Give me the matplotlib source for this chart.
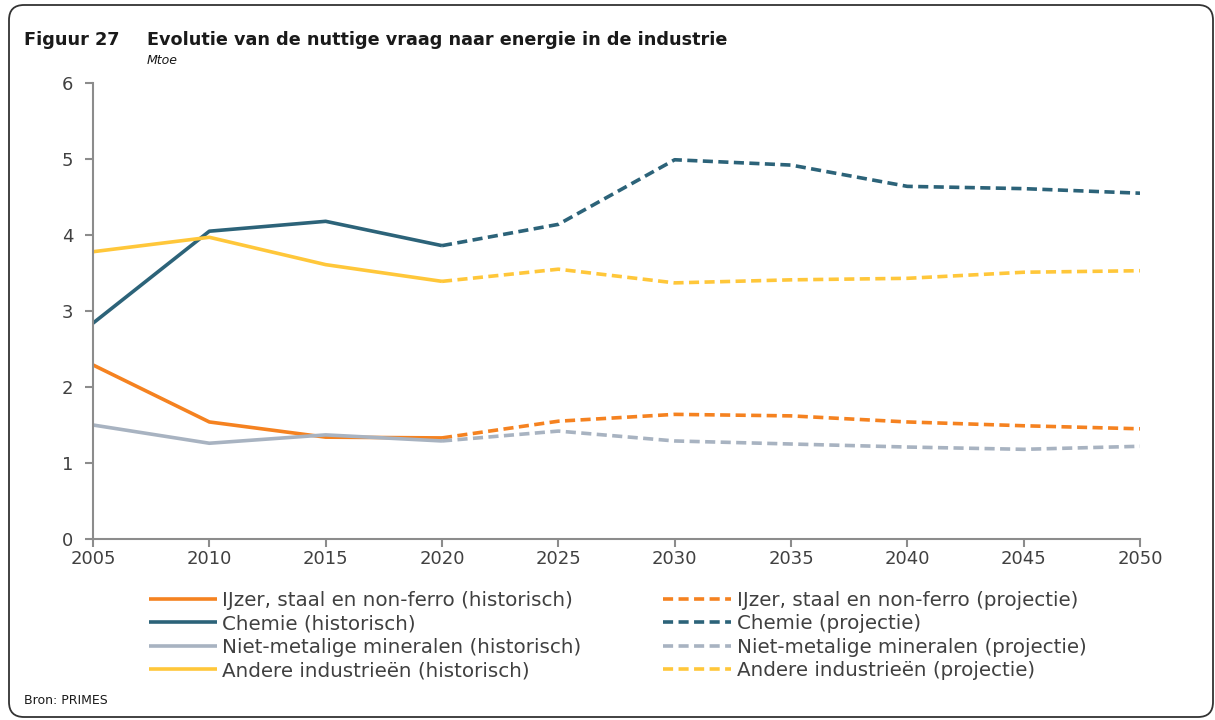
import matplotlib
matplotlib.use("Agg")
import matplotlib.pyplot as plt
from matplotlib.patches import FancyBboxPatch

years_hist = [2005, 2010, 2015, 2020]
years_proj = [2020, 2025, 2030, 2035, 2040, 2045, 2050]

ijzer_hist = [2.29, 1.54, 1.34, 1.33]
ijzer_proj = [1.33, 1.55, 1.64, 1.62, 1.54, 1.49, 1.45]
chemie_hist = [2.84, 4.05, 4.18, 3.86]
chemie_proj = [3.86, 4.14, 4.99, 4.92, 4.64, 4.61, 4.55]
mineralen_hist = [1.50, 1.26, 1.37, 1.29]
mineralen_proj = [1.29, 1.42, 1.29, 1.25, 1.21, 1.18, 1.22]
andere_hist = [3.78, 3.97, 3.61, 3.39]
andere_proj = [3.39, 3.55, 3.37, 3.41, 3.43, 3.51, 3.53]

series_names = ["IJzer, staal en non-ferro", "Chemie", "Niet-metalige mineralen", "Andere industrieën"]
colors = ["#F58220", "#2C6379", "#A8B3C1", "#FFC73A"]
hist_data = [ijzer_hist, chemie_hist, mineralen_hist, andere_hist]
proj_data = [ijzer_proj, chemie_proj, mineralen_proj, andere_proj]

x_ticks = [2005, 2010, 2015, 2020, 2025, 2030, 2035, 2040, 2045, 2050]
y_ticks = [0, 1, 2, 3, 4, 5, 6]

plt.rcParams['font.family'] = ['DejaVu Sans']

fig = plt.figure(figsize=(12.15, 7.2), dpi=100)
ax = fig.add_axes([93/1215, 1-539/720, (1140-93)/1215, (539-83)/720])

hist_handles = []
proj_handles = []
for name, c, h, p in zip(series_names, colors, hist_data, proj_data):
    l1, = ax.plot(years_hist, h, color=c, lw=2.6, label=f"{name} (historisch)", solid_capstyle='butt')
    l2, = ax.plot(years_proj, p, color=c, lw=2.6, dashes=(2.8, 1.5), label=f"{name} (projectie)")
    hist_handles.append(l1)
    proj_handles.append(l2)

ax.set_xlim(2005, 2050)
ax.set_ylim(0, 6)
ax.set_xticks(x_ticks)
ax.set_yticks(y_ticks)
for s in ["top", "right"]:
    ax.spines[s].set_visible(False)
for s in ["left", "bottom"]:
    ax.spines[s].set_color("#8C8C8C")
    ax.spines[s].set_linewidth(1.5)
ax.tick_params(axis="both", colors="#8C8C8C", width=1.5, length=6, labelsize=13, labelcolor="#404040")
ax.tick_params(axis="x", pad=2)
ax.tick_params(axis="y", pad=8)

leg = fig.legend(handles=hist_handles + proj_handles, ncol=2, loc="upper left",
                 bbox_to_anchor=(149/1215, 1-591/720), frameon=False,
                 fontsize=14.3, handlelength=3.4, handletextpad=0.3, columnspacing=4.1,
                 labelspacing=0.22, borderpad=0, borderaxespad=0)
for t in leg.get_texts():
    t.set_color("#404040")

fig.text(24/1215, 1-40/720, "Figuur 27", fontsize=12.8, fontweight="bold", color="#1a1a1a", va="center")
fig.text(147/1215, 1-40/720, "Evolutie van de nuttige vraag naar energie in de industrie", fontsize=12.7,
         fontweight="bold", color="#1a1a1a", va="center")
fig.text(147/1215, 1-60/720, "Mtoe", fontsize=9, fontstyle="italic", color="#1a1a1a", va="center")
fig.text(24/1215, 1-700/720, "Bron: PRIMES", fontsize=9, color="#1a1a1a", va="center")

frame = FancyBboxPatch((0.09, 0.03), 12.04, 7.12,
                       boxstyle="round,pad=0,rounding_size=0.15", transform=fig.dpi_scale_trans,
                       fill=False, edgecolor="#333333", linewidth=1.3, clip_on=False)
fig.add_artist(frame)

fig.savefig("out.png", dpi=100)
